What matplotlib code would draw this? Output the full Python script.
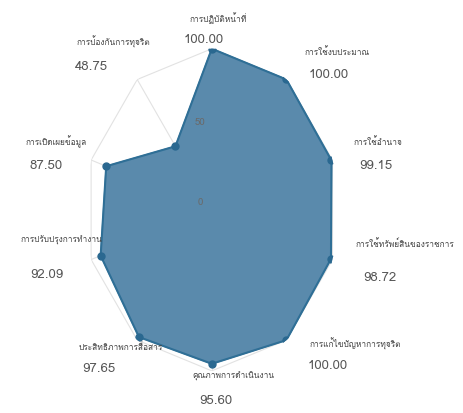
import numpy as np
import matplotlib
matplotlib.use('Agg')
import matplotlib.pyplot as plt
from matplotlib import font_manager
from fontTools.ttLib import TTFont

# indicadores (ITA) y puntajes, en sentido horario desde arriba
categorias = ['การปฏิบัติหน้าที่', 'การใช้งบประมาณ', 'การใช้อำนาจ',
              'การใช้ทรัพย์สินของราชการ', 'การแก้ไขปัญหาการทุจริต',
              'คุณภาพการดำเนินงาน', 'ประสิทธิภาพการสื่อสาร',
              'การปรับปรุงการทำงาน', 'การเปิดเผยข้อมูล', 'การป้องกันการทุจริต']
valores = [100.00, 100.00, 99.15, 98.72, 100.00, 95.60, 97.65, 92.09, 87.50, 48.75]
ticks_r = [0, 50, 100]

# buscar una fuente con glifos tailandeses
fuente_thai = 'DejaVu Sans'
for f in font_manager.fontManager.ttflist:
    try:
        if 0x0E01 in TTFont(f.fname, fontNumber=0, lazy=True).getBestCmap():
            fuente_thai = f.name
            break
    except Exception:
        pass
plt.rcParams['font.family'] = [fuente_thai, 'DejaVu Sans']

# desplazamientos de las etiquetas (pixeles) respecto al punto: nombre y valor
off_nombre = [(6, 31), (51, 27), (46, 18), (74, 15), (69, -4),
              (22, -13), (-18, -10), (-39, 15), (-50, 25), (-62, 104)]
off_valor = [(-8, 9), (42, 4), (44, -6), (49, -19), (41, -26),
             (4, -37), (-40, -32), (-54, -19), (-60, 0), (-84, 79)]

n = len(categorias)
angulos = np.linspace(0, 2 * np.pi, n, endpoint=False)
cerrado = np.concatenate([angulos, angulos[:1]])

fig = plt.figure(figsize=(4.64, 4.13), dpi=100)
ax = fig.add_axes([0.183, 0.102, 0.547, 0.780], projection='polar')
ax.set_aspect('auto')  # el original esta estirado en vertical
ax.set_theta_zero_location('N')
ax.set_theta_direction(-1)
ax.set_ylim(0, 100)
ax.grid(False)
ax.spines['polar'].set_visible(False)
ax.set_xticks([])
ax.set_yticks([])

# rejilla poligonal
for r in ticks_r[1:]:
    ax.plot(cerrado, [r] * (n + 1), color='#e2e2e2', lw=0.8, zorder=1)
for a in angulos:
    ax.plot([a, a], [0, ticks_r[-1]], color='#e2e2e2', lw=0.8, zorder=1)

vals = valores + valores[:1]
ax.fill(cerrado, vals, color='#5a8aac', zorder=2)
ax.plot(cerrado, vals, color='#2f6f96', lw=1.5, zorder=3)
ax.plot(angulos, valores, 'o', color='#2a6890', ms=5, zorder=4)

for r in ticks_r[:2]:
    ax.annotate(str(r), xy=(0, r), xytext=(-12, 7), textcoords='offset pixels',
                ha='center', va='center', fontsize=7, color='#6a6a6a', zorder=5)

for i in range(n):
    ax.annotate(categorias[i], xy=(angulos[i], valores[i]), xytext=off_nombre[i],
                textcoords='offset pixels', ha='center', va='center',
                fontsize=6, color='#444444', annotation_clip=False)
    ax.annotate('%.2f' % valores[i], xy=(angulos[i], valores[i]), xytext=off_valor[i],
                textcoords='offset pixels', ha='center', va='center',
                fontsize=9.5, color='#555555', annotation_clip=False)

fig.savefig('out.png', dpi=100)
